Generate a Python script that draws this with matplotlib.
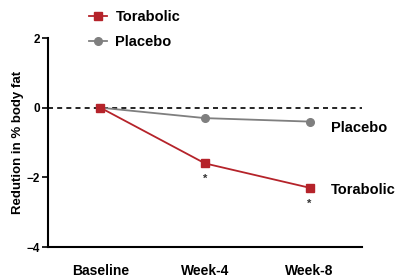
import matplotlib
matplotlib.use("Agg")
import matplotlib.pyplot as plt

plt.rcParams["font.family"] = ["Liberation Sans", "DejaVu Sans"]
plt.rcParams["font.weight"] = "bold"

timepoints = ["Baseline", "Week-4", "Week-8"]
torabolic = [0.0, -1.6, -2.3]
placebo = [0.0, -0.3, -0.4]
sig_marks = ["", "*", "*"]

red = "#b5232a"
gray = "#7f7f7f"

fig = plt.figure(figsize=(4.01, 2.79), dpi=100)
ax = fig.add_axes([48 / 401, 1 - 247 / 279, (362 - 48) / 401, (247 - 38) / 279])

x = list(range(len(timepoints)))
ax.axhline(0, color="black", lw=1.2, ls=(0, (3, 2.5)), zorder=1)
l1, = ax.plot(x, torabolic, color=red, marker="s", ms=6, lw=1.3, label="Torabolic", zorder=3)
l2, = ax.plot(x, placebo, color=gray, marker="o", ms=5.5, lw=1.3, label="Placebo", zorder=2)

# significance markers under the Torabolic points
for xi, yi, s in zip(x, torabolic, sig_marks):
    if s:
        ax.text(xi, yi - 0.45, s, ha="center", va="center", fontsize=8, color="#333333")

ax.text(x[-1] + 0.2, placebo[-1] - 0.18, "Placebo", ha="left", va="center", fontsize=10.5, fontweight="bold")
ax.text(x[-1] + 0.2, torabolic[-1] - 0.05, "Torabolic", ha="left", va="center", fontsize=10.5, fontweight="bold")

ax.set_xlim(-0.5, 2.5)
ax.set_ylim(-4, 2)
ax.set_yticks([-4, -2, 0, 2])
ax.set_xticks(x)
ax.set_xticklabels(timepoints, fontsize=10, fontweight="bold")
ax.tick_params(axis="x", length=0, pad=12)
ax.tick_params(axis="y", labelsize=8.5, length=4, width=1.2, pad=2)
for lbl in ax.get_yticklabels():
    lbl.set_fontweight("bold")
ax.spines["top"].set_visible(False)
ax.spines["right"].set_visible(False)
ax.spines["left"].set_linewidth(1.5)
ax.spines["bottom"].set_linewidth(1.5)
ax.set_ylabel("Redution in % body fat", fontsize=9.5, fontweight="bold", labelpad=2)

fig.legend(handles=[l1, l2], loc="upper left", bbox_to_anchor=(76 / 401, 1.01),
           frameon=False, handlelength=1.2, handletextpad=0.6, labelspacing=0.75,
           prop={"weight": "bold", "size": 10.5})

fig.savefig("out.png", dpi=100)
